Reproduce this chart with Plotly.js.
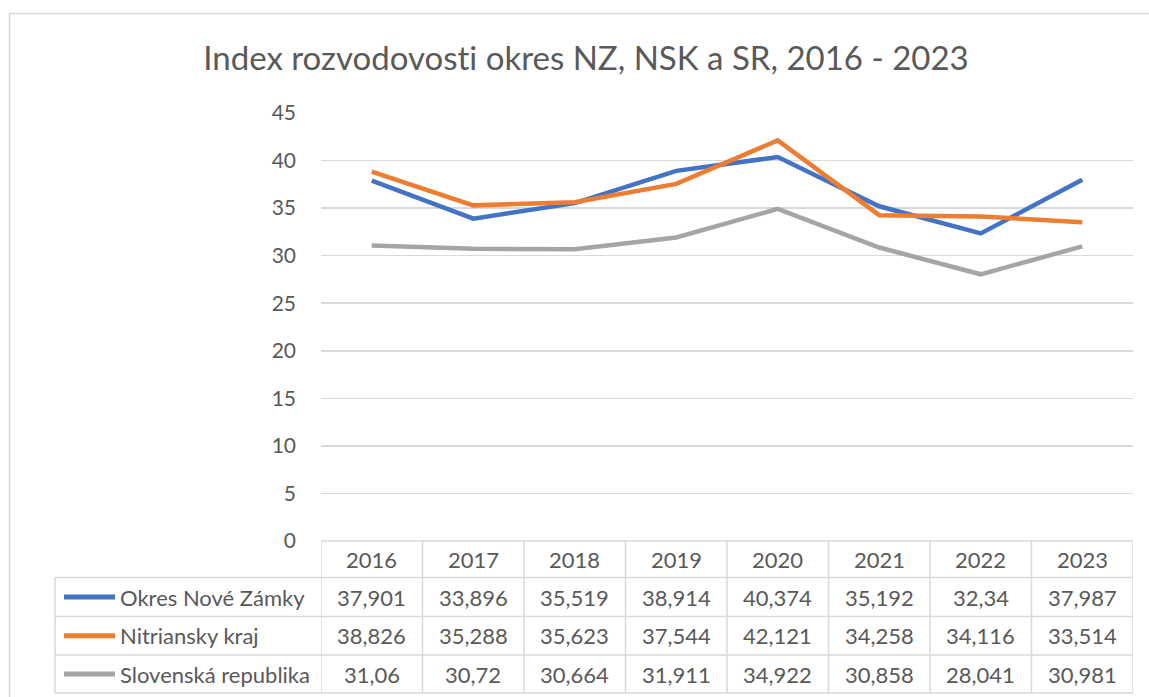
<!DOCTYPE html>
<html>
<head>
<meta charset="utf-8">
<script src="https://cdn.plot.ly/plotly-3.0.1.min.js"></script>
<style>
html,body{margin:0;padding:0;background:#fff;}
#chart{width:1149px;height:697px;}
text{font-variant-ligatures:none;font-feature-settings:"liga" 0, "dlig" 0;}
</style>
</head>
<body>
<div id="chart"></div>
<script>
// ---- data ----
const years = ['2016','2017','2018','2019','2020','2021','2022','2023'];
const seriesNames = ['Okres Nové Zámky','Nitriansky kraj','Slovenská republika'];
const okresNZ = [37.901, 33.896, 35.519, 38.914, 40.374, 35.192, 32.34, 37.987];
const nitrianskyKraj = [38.826, 35.288, 35.623, 37.544, 42.121, 34.258, 34.116, 33.514];
const slovenskaRep = [31.06, 30.72, 30.664, 31.911, 34.922, 30.858, 28.041, 30.981];
const yTicks = [0,5,10,15,20,25,30,35,40,45];
const chartTitle = 'Index rozvodovosti okres NZ, NSK a SR, 2016 - 2023';

// ---- layout helpers ----
const W = 1149, H = 697;
const M = {l: 321, r: 16, t: 113, b: 156};
const plotW = W - M.l - M.r, plotH = H - M.t - M.b;
const py = p => (H - M.b - p) / plotH;    // pixel y -> paper y
const px = p => (p - M.l) / plotW;        // pixel x -> paper x

const colors = ['#4472C4', '#ED7D31', '#A5A5A5'];
const allSeries = [okresNZ, nitrianskyKraj, slovenskaRep];
const textColor = '#595959';
const gridColor = '#D9D9D9';
const FONT = 'Lato, "Open Sans", sans-serif';

const xIdx = years.map((_, i) => i);

const traces = allSeries.map((vals, s) => ({
  type: 'scatter', mode: 'lines',
  x: xIdx, y: vals, name: seriesNames[s],
  line: {color: colors[s], width: 4.5},
  hoverinfo: 'skip', showlegend: false
}));

// table geometry (pixels)
const rowEdges = [541, 577.5, 616.5, 655, 693];
const labelLeft = 55;

const shapes = [];
const annotations = [];

// outer chart border
shapes.push({type:'rect', xref:'paper', yref:'paper',
  x0: px(9.5), x1: px(1152), y0: py(13.5), y1: py(700),
  line:{color:gridColor, width:1.5}, fillcolor:'rgba(0,0,0,0)', layer:'below'});

// vertical table lines
for (let i = 0; i <= years.length; i++) {
  shapes.push({type:'line', xref:'x', yref:'paper',
    x0: i - 0.5, x1: i - 0.5, y0: py(rowEdges[0]), y1: py(rowEdges[4]),
    line:{color:gridColor, width:1.5}});
}
// left border of label column
shapes.push({type:'line', xref:'paper', yref:'paper',
  x0: px(labelLeft), x1: px(labelLeft), y0: py(rowEdges[1]), y1: py(rowEdges[4]),
  line:{color:gridColor, width:1.5}});
// horizontal table lines
shapes.push({type:'line', xref:'paper', yref:'paper', x0: 0, x1: 1,
  y0: py(rowEdges[0]), y1: py(rowEdges[0]), line:{color:gridColor, width:1.5}});
for (let r = 1; r < rowEdges.length; r++) {
  shapes.push({type:'line', xref:'paper', yref:'paper', x0: px(labelLeft), x1: 1,
    y0: py(rowEdges[r]), y1: py(rowEdges[r]), line:{color:gridColor, width:1.5}});
}

const cellFont = {family: FONT, size: 22, color: textColor};
// header years
years.forEach((yr, i) => {
  annotations.push({xref:'x', yref:'paper', x: i, y: py((rowEdges[0]+rowEdges[1])/2),
    text: yr, showarrow:false, font: cellFont, xanchor:'center', yanchor:'middle'});
});
// rows
allSeries.forEach((vals, s) => {
  const yc = py((rowEdges[s+1] + rowEdges[s+2]) / 2);
  // legend key
  shapes.push({type:'line', xref:'paper', yref:'paper', x0: px(64), x1: px(115),
    y0: yc, y1: yc, line:{color: colors[s], width: 5}});
  annotations.push({xref:'paper', yref:'paper', x: px(118), y: yc,
    text: seriesNames[s], showarrow:false, font: cellFont, xanchor:'left', yanchor:'middle'});
  vals.forEach((v, i) => {
    annotations.push({xref:'x', yref:'paper', x: i, y: yc,
      text: String(v).replace('.', ','), showarrow:false, font: cellFont,
      xanchor:'center', yanchor:'middle'});
  });
});

const layout = {
  width: W, height: H,
  margin: M,
  paper_bgcolor: '#fff', plot_bgcolor: '#fff',
  font: {family: FONT, color: textColor},
  title: {text: chartTitle, font: {family: FONT, size: 33, color: textColor},
    xref: 'container', yref: 'container', x: 586 / W, y: 1 - 58 / H,
    xanchor: 'center', yanchor: 'middle'},
  xaxis: {range: [-0.5, years.length - 0.5], showgrid:false, zeroline:false,
    showticklabels:false, ticks:'', showline:false, fixedrange:true},
  yaxis: {range: [0, 45], tickvals: yTicks, ticktext: yTicks.map(String),
    showgrid: true, gridcolor: gridColor, gridwidth: 1.5, zeroline: false,
    showline: false, ticks: '', ticklabelstandoff: 24,
    tickfont: {family: FONT, size: 21, color: textColor}, fixedrange:true},
  shapes: shapes,
  annotations: annotations,
  showlegend: false
};

Plotly.newPlot('chart', traces, layout, {displayModeBar:false, staticPlot:true});
</script>
</body>
</html>
